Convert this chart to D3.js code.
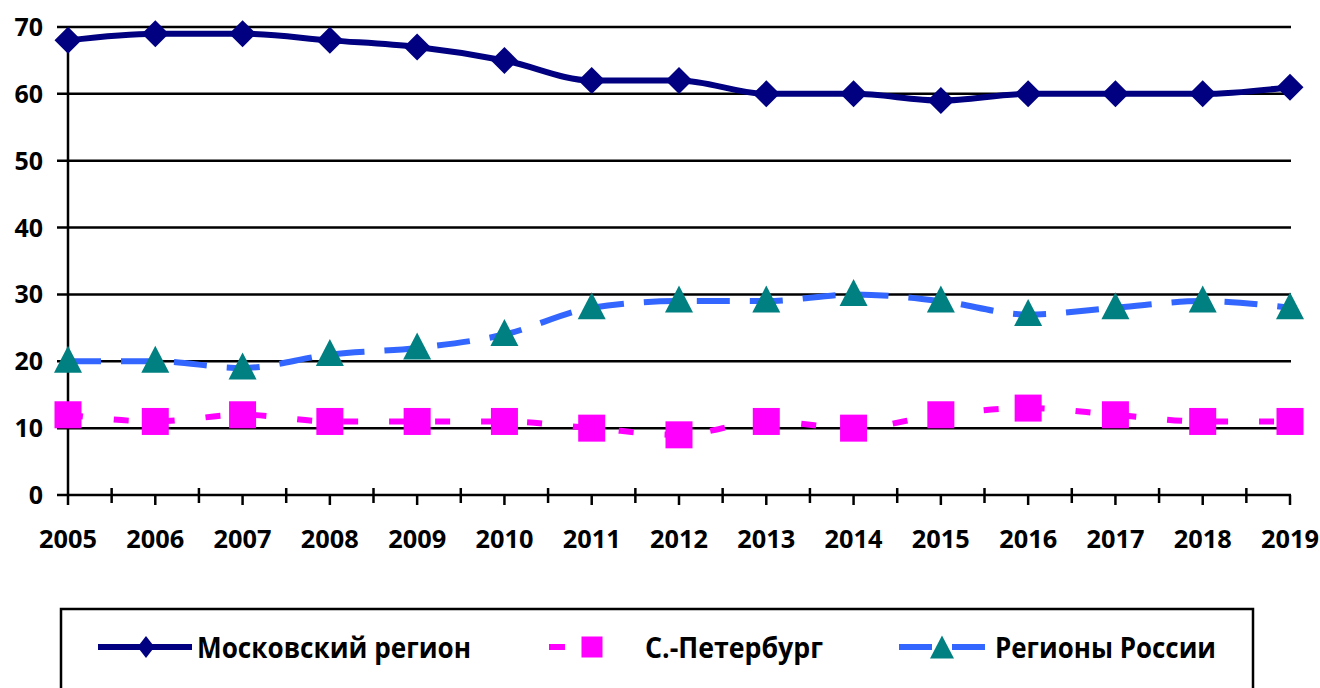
<!DOCTYPE html>
<html><head><meta charset="utf-8">
<script src="https://cdn.jsdelivr.net/npm/d3@7"></script>
<style>body{margin:0;background:#fff}svg{display:block}text{font-family:"Open Sans",sans-serif;font-weight:bold;fill:#000}</style>
</head><body><svg id="c" width="1320" height="688"></svg>
<script>
const years = ["2005","2006","2007","2008","2009","2010","2011","2012","2013","2014","2015","2016","2017","2018","2019"];
const moscow = [68,69,69,68,67,65,62,62,60,60,59,60,60,60,61];
const spb = [12,11,12,11,11,11,10,9,11,10,12,13,12,11,11];
const regions = [20,20,19,21,22,24,28,29,29,30,29,27,28,29,28];
const yTicks = [0,10,20,30,40,50,60,70];
const names = ["Московский регион","С.-Петербург","Регионы России"];

const svg = d3.select("#c");
const x = d3.scalePoint().domain(years).range([68,1290]);
const y = d3.scaleLinear().domain([0,70]).range([495,27]);
const step = x.step();

svg.append("g").selectAll("line").data(yTicks).join("line")
  .attr("x1",57).attr("x2",1291).attr("y1",d=>y(d)).attr("y2",d=>y(d))
  .attr("stroke","#000").attr("stroke-width",2.5);
svg.append("line").attr("x1",68).attr("x2",68).attr("y1",y(70)).attr("y2",505)
  .attr("stroke","#000").attr("stroke-width",2.5);
svg.append("g").selectAll("line").data(years.slice(1)).join("line")
  .attr("x1",d=>x(d)).attr("x2",d=>x(d)).attr("y1",495).attr("y2",505)
  .attr("stroke","#000").attr("stroke-width",2.5);
svg.append("g").selectAll("line").data(years.slice(1)).join("line")
  .attr("x1",d=>x(d)-step/2).attr("x2",d=>x(d)-step/2).attr("y1",488).attr("y2",503)
  .attr("stroke","#000").attr("stroke-width",2.5);
svg.append("g").selectAll("text").data(yTicks).join("text")
  .attr("x",43).attr("y",d=>y(d)).attr("dy","0.36em").attr("text-anchor","end")
  .attr("font-size",25).text(d=>d);
svg.append("g").selectAll("text").data(years).join("text")
  .attr("x",d=>x(d)).attr("y",539).attr("dy","0.36em").attr("text-anchor","middle")
  .attr("font-size",25).attr("textLength",58).attr("lengthAdjust","spacingAndGlyphs").text(d=>d);

const line = d3.line().x((d,i)=>x(years[i])).y(d=>y(d)).curve(d3.curveMonotoneX);

function diamond(g, cx, cy, w, h, fill){
  g.append("path").attr("d",`M${cx},${cy-h/2}L${cx+w/2},${cy}L${cx},${cy+h/2}L${cx-w/2},${cy}Z`).attr("fill",fill);
}
function square(g, cx, cy, s, fill){
  g.append("rect").attr("x",cx-s/2).attr("y",cy-s/2).attr("width",s).attr("height",s).attr("fill",fill);
}
function tri(g, cx, cy, w, h, fill){
  g.append("path").attr("d",`M${cx},${cy-h/2-2}L${cx+w/2},${cy+h/2-2}L${cx-w/2},${cy+h/2-2}Z`).attr("fill",fill);
}

const gm = svg.append("g");
gm.append("path").attr("d",line(moscow)).attr("fill","none").attr("stroke","#000080").attr("stroke-width",6);
moscow.forEach((v,i)=>diamond(gm,x(years[i]),y(v),27,27,"#000080"));
const gs = svg.append("g");
gs.append("path").attr("d",line(spb)).attr("fill","none").attr("stroke","#FF00FF").attr("stroke-width",6).attr("stroke-dasharray","15,31");
spb.forEach((v,i)=>square(gs,x(years[i]),y(v),27,"#FF00FF"));
const gr = svg.append("g");
gr.append("path").attr("d",line(regions)).attr("fill","none").attr("stroke","#3366FF").attr("stroke-width",6).attr("stroke-dasharray","33,20");
regions.forEach((v,i)=>tri(gr,x(years[i]),y(v),28,27,"#008080"));

const lg = svg.append("g");
lg.append("rect").attr("x",61).attr("y",609).attr("width",1192).attr("height",100)
  .attr("fill","none").attr("stroke","#000").attr("stroke-width",2.5);
const ly = 647;
lg.append("line").attr("x1",98).attr("x2",192).attr("y1",ly).attr("y2",ly).attr("stroke","#000080").attr("stroke-width",6);
diamond(lg,146,ly,17,22,"#000080");
lg.append("line").attr("x1",549).attr("x2",612).attr("y1",ly).attr("y2",ly).attr("stroke","#FF00FF").attr("stroke-width",6).attr("stroke-dasharray","16,17");
square(lg,592,ly,21,"#FF00FF");
lg.append("line").attr("x1",899).attr("x2",986).attr("y1",ly).attr("y2",ly).attr("stroke","#3366FF").attr("stroke-width",6).attr("stroke-dasharray","33,20");
tri(lg,942,ly+2,24,23,"#008080");
const lx = [197,645,995], lw = [274,178,221];
names.forEach((n,i)=>{
  lg.append("text").attr("x",lx[i]).attr("y",ly+1).attr("dy","0.36em").attr("font-size",28)
    .attr("textLength",lw[i]).attr("lengthAdjust","spacingAndGlyphs").text(n);
});
</script></body></html>
